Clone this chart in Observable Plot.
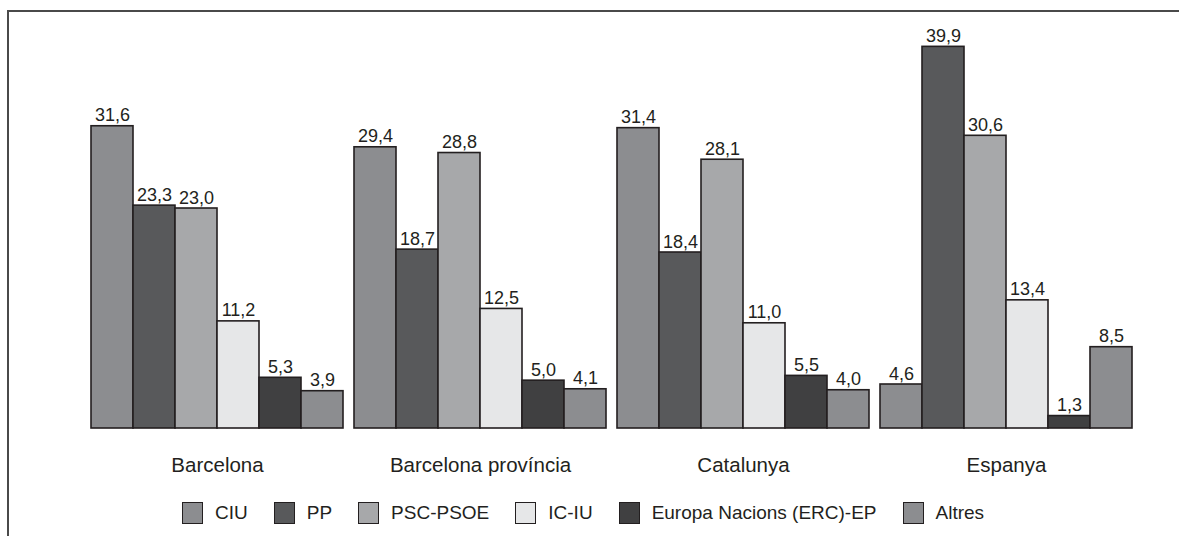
<!DOCTYPE html>
<html>
<head>
<meta charset="utf-8">
<script src="https://cdn.jsdelivr.net/npm/d3@7"></script>
<script src="https://cdn.jsdelivr.net/npm/@observablehq/plot@0.6"></script>
<style>
  html, body { margin: 0; padding: 0; background: #fff; overflow: hidden; }
  body { width: 1179px; height: 536px; position: relative; font-family: "Liberation Sans", Arial, sans-serif; }
  #ftop { position: absolute; left: 7px; top: 10px; width: 1172px; height: 1.5px; background: #4a4a4a; }
  #fleft { position: absolute; left: 7px; top: 10px; width: 1.5px; height: 526px; background: #4a4a4a; }
  #chart { position: absolute; left: 0; top: 0; }
  #legend { position: absolute; left: 182px; top: 502px; display: flex; align-items: center; font-size: 19px; color: #231f20; }
  .item { display: flex; align-items: center; margin-right: 26px; }
  .sw { width: 21px; height: 22px; border: 1.5px solid #231f20; margin-right: 12px; box-sizing: border-box; }
</style>
</head>
<body>
<div id="ftop"></div>
<div id="fleft"></div>
<div id="chart"></div>
<div id="legend"></div>
<script>
const regions = ["Barcelona", "Barcelona província", "Catalunya", "Espanya"];
const parties = ["CIU", "PP", "PSC-PSOE", "IC-IU", "Europa Nacions (ERC)-EP", "Altres"];
const colors = ["#8c8d90", "#58595b", "#a7a8aa", "#e6e7e8", "#404041", "#8c8d90"];
const valBarcelona = [31.6, 23.3, 23.0, 11.2, 5.3, 3.9];
const valProvincia = [29.4, 18.7, 28.8, 12.5, 5.0, 4.1];
const valCatalunya = [31.4, 18.4, 28.1, 11.0, 5.5, 4.0];
const valEspanya = [4.6, 39.9, 30.6, 13.4, 1.3, 8.5];
const series = [valBarcelona, valProvincia, valCatalunya, valEspanya];

const data = [];
regions.forEach((r, i) => parties.forEach((p, j) => data.push({region: r, party: p, value: series[i][j]})));

const fmt = v => v.toFixed(1).replace(".", ",");

const chart = Plot.plot({
  width: 1179,
  height: 485,
  marginLeft: 88,
  marginRight: 44,
  marginTop: 45.4,
  marginBottom: 57,
  style: {fontFamily: "'Liberation Sans', Arial, sans-serif", background: "transparent", color: "#231f20", overflow: "visible"},
  fx: {domain: regions, paddingInner: 0.034, paddingOuter: 0, label: null},
  x: {domain: parties, padding: 0, axis: null},
  y: {domain: [0, 40], axis: null},
  color: {domain: parties, range: colors},
  marks: [
    Plot.axisFx({anchor: "bottom", tickSize: 0, tickPadding: 29, fontSize: 20.5, label: null}),
    Plot.barY(data, {fx: "region", x: "party", y: "value", fill: "party", stroke: "#231f20", strokeWidth: 1.6, inset: 0}),
    Plot.text(data, {fx: "region", x: "party", y: "value", text: d => fmt(d.value), lineAnchor: "bottom", dy: -5, fontSize: 18, fill: "#231f20"})
  ]
});
document.getElementById("chart").appendChild(chart);

const legend = document.getElementById("legend");
parties.forEach((p, i) => {
  const it = document.createElement("div");
  it.className = "item";
  const sw = document.createElement("div");
  sw.className = "sw";
  sw.style.background = colors[i];
  const t = document.createElement("span");
  t.textContent = p;
  it.appendChild(sw); it.appendChild(t);
  legend.appendChild(it);
});
</script>
</body>
</html>
